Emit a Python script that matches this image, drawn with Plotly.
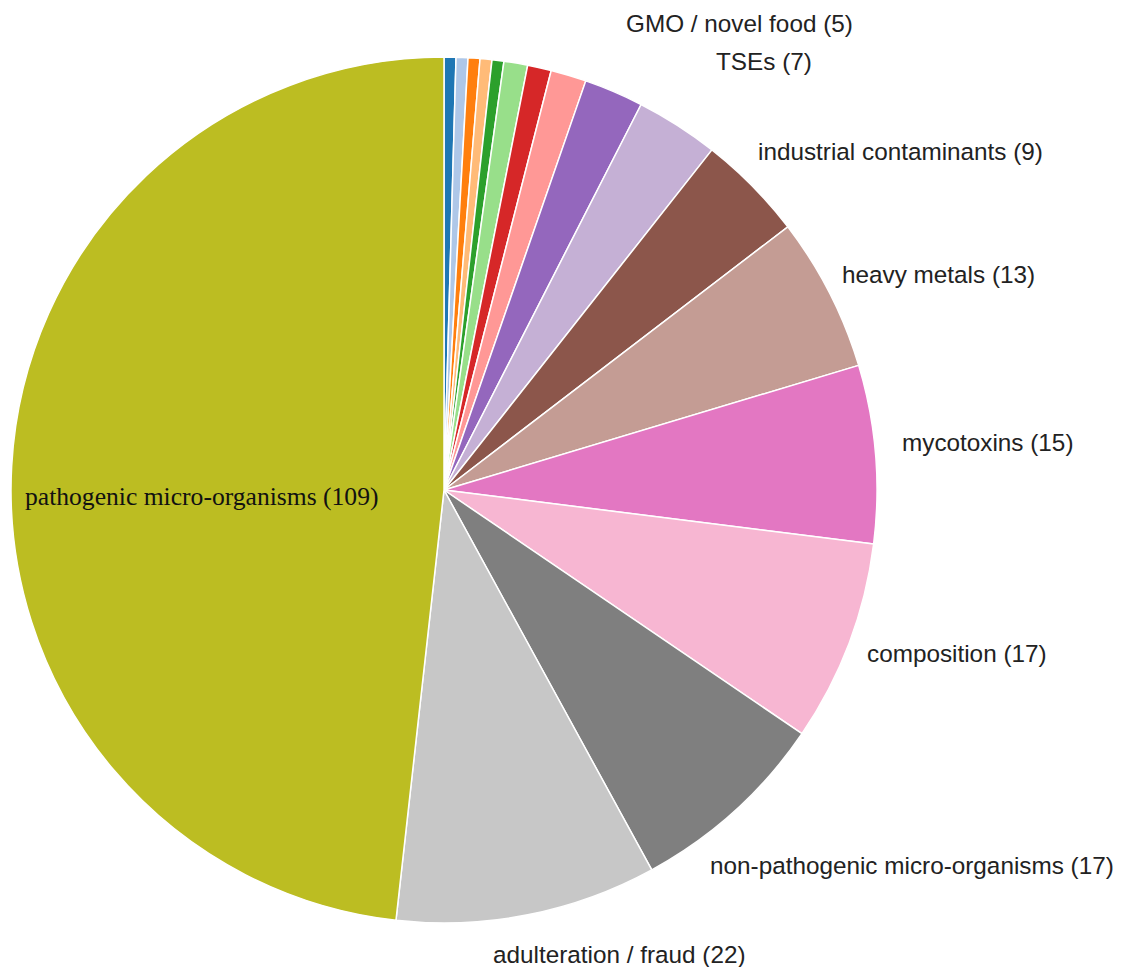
import plotly.graph_objects as go

labels = [
    "radiation",
    "biocontaminants",
    "migration",
    "packaging defective / incorrect",
    "foreign bodies",
    "food additives and flavourings",
    "residues of veterinary medicinal products",
    "pesticide residues",
    "GMO / novel food",
    "TSEs",
    "industrial contaminants",
    "heavy metals",
    "mycotoxins",
    "composition",
    "non-pathogenic micro-organisms",
    "adulteration / fraud",
    "pathogenic micro-organisms",
]
values = [1, 1, 1, 1, 1, 2, 2, 3, 5, 7, 9, 13, 15, 17, 17, 22, 109]
colors = [
    "#1f77b4", "#aec7e8", "#ff7f0e", "#ffbb78", "#2ca02c", "#98df8a",
    "#d62728", "#ff9896", "#9467bd", "#c5b0d5", "#8c564b", "#c49c94",
    "#e377c2", "#f7b6d2", "#7f7f7f", "#c7c7c7", "#bcbd22",
]

# label placement (page pixels: left edge, vertical middle); small slices stay unlabeled
label_pos = {
    "GMO / novel food": (624, 24),
    "TSEs": (714, 61),
    "industrial contaminants": (756, 151),
    "heavy metals": (840, 274),
    "mycotoxins": (900, 442),
    "composition": (865, 653),
    "non-pathogenic micro-organisms": (708, 865),
    "adulteration / fraud": (491, 955),
}
inside_label = ("pathogenic micro-organisms", 23, 496)

W, H = 1125, 967
M = dict(l=3, r=256, t=49, b=52)
PAGE_OFFSET = 8  # default body margin of the html page
plot_w = W - M["l"] - M["r"]
plot_h = H - M["t"] - M["b"]


def to_paper(px, py):
    return (px - PAGE_OFFSET - M["l"]) / plot_w, 1 - (py - PAGE_OFFSET - M["t"]) / plot_h


fig = go.Figure(
    go.Pie(
        labels=labels,
        values=values,
        sort=False,
        direction="clockwise",
        rotation=0,
        marker=dict(colors=colors, line=dict(color="white", width=1.5)),
        textposition="none",
        showlegend=False,
        hoverinfo="label+value",
    )
)

value_of = dict(zip(labels, values))
annotations = []
for name, (px, py) in label_pos.items():
    x, y = to_paper(px, py)
    annotations.append(
        dict(
            x=x, y=y, xref="paper", yref="paper",
            xanchor="left", yanchor="middle", showarrow=False,
            text=f"{name} ({value_of[name]})",
            font=dict(family="Liberation Sans, Arial, sans-serif", size=24.3, color="#222"),
        )
    )
name, px, py = inside_label
x, y = to_paper(px, py)
annotations.append(
    dict(
        x=x, y=y, xref="paper", yref="paper",
        xanchor="left", yanchor="middle", showarrow=False,
        text=f"{name} ({value_of[name]})",
        font=dict(family="Liberation Serif, Times New Roman, serif", size=25.6, color="#111"),
    )
)

fig.update_layout(
    width=W,
    height=H,
    margin=M,
    paper_bgcolor="white",
    plot_bgcolor="white",
    annotations=annotations,
)

fig.write_html("out.html")
